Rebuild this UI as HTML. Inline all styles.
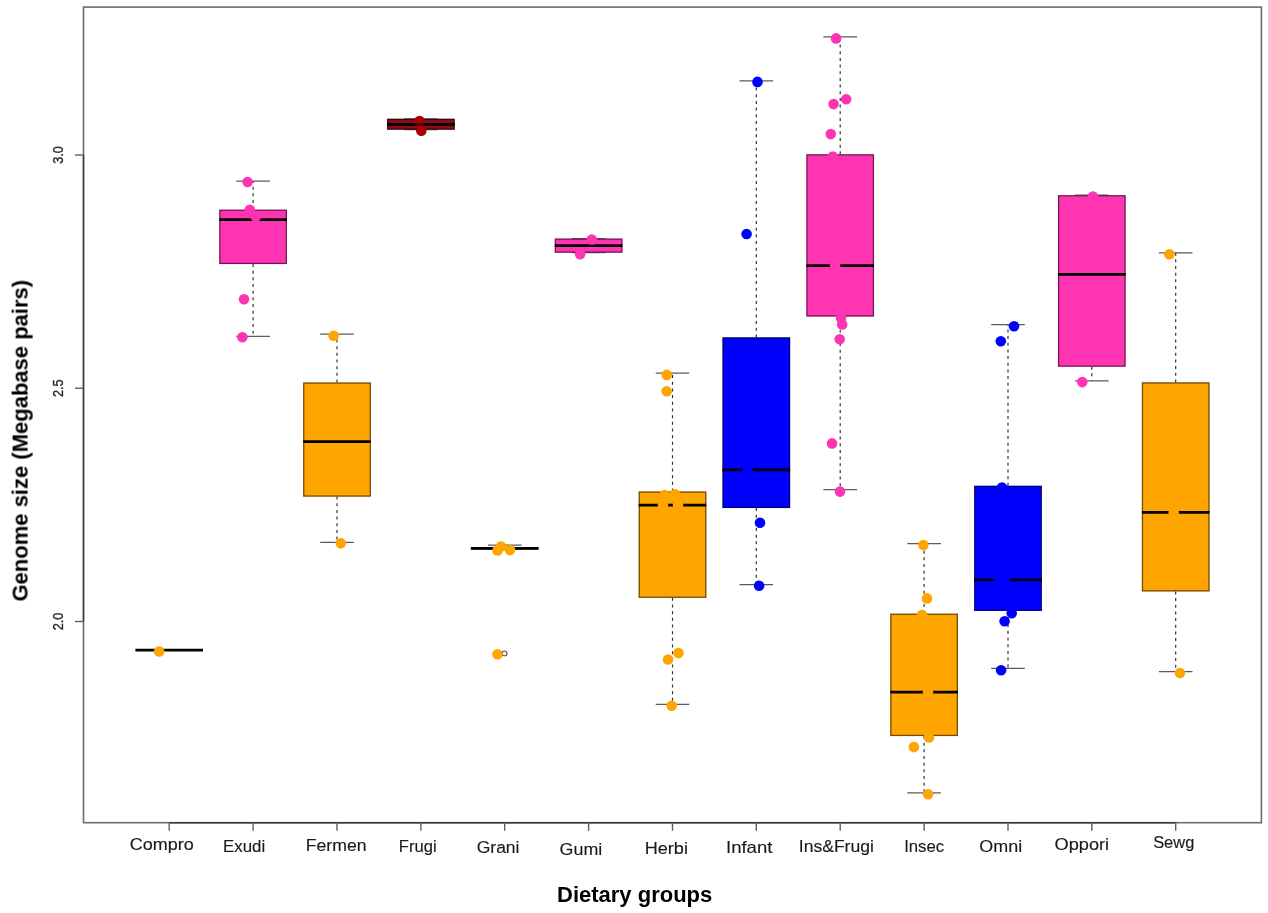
<!DOCTYPE html>
<html><head><meta charset="utf-8"><title>Genome size by dietary group</title>
<style>
html,body{margin:0;padding:0;background:#fff;}
body{width:1268px;height:913px;overflow:hidden;}
svg{display:block;font-family:"Liberation Sans",sans-serif;}
.txt{filter:grayscale(1);}
.xl{font-size:17.6px;fill:#1a1a1a;stroke:#1a1a1a;stroke-width:0.15px;}
.yl{font-size:14px;fill:#222;stroke:#222;stroke-width:0.3px;}
.tt{font-size:22px;font-weight:bold;fill:#000;}
.wk{stroke:#2a2a2a;stroke-width:1.15;stroke-dasharray:3 3.67;}
.cap{stroke:#5a5a5a;stroke-width:1.25;}
.bx{stroke:#000;stroke-opacity:0.55;stroke-width:1.3;}
.md{stroke:#000;stroke-width:2.8;}
</style></head><body>
<svg width="1268" height="913" viewBox="0 0 1268 913">
<rect x="0" y="0" width="1268" height="913" fill="#fff"/>
<rect x="83.5" y="7.1" width="1177.9" height="815.6" fill="none" stroke="#6c6c6c" stroke-width="1.6"/>
<line x1="83.5" y1="155" x2="83.5" y2="621.5" stroke="#383838" stroke-width="1.4"/>
<line x1="169.2" y1="822.7" x2="1175.7" y2="822.7" stroke="#383838" stroke-width="1.4"/>
<line x1="75" y1="155" x2="83.5" y2="155" stroke="#5e5e5e" stroke-width="1.4"/>
<line x1="75" y1="388.2" x2="83.5" y2="388.2" stroke="#5e5e5e" stroke-width="1.4"/>
<line x1="75" y1="621.5" x2="83.5" y2="621.5" stroke="#5e5e5e" stroke-width="1.4"/>
<line x1="169.2" y1="822.7" x2="169.2" y2="830.8" stroke="#5e5e5e" stroke-width="1.4"/>
<line x1="253.1" y1="822.7" x2="253.1" y2="830.8" stroke="#5e5e5e" stroke-width="1.4"/>
<line x1="337" y1="822.7" x2="337" y2="830.8" stroke="#5e5e5e" stroke-width="1.4"/>
<line x1="420.9" y1="822.7" x2="420.9" y2="830.8" stroke="#5e5e5e" stroke-width="1.4"/>
<line x1="504.7" y1="822.7" x2="504.7" y2="830.8" stroke="#5e5e5e" stroke-width="1.4"/>
<line x1="588.6" y1="822.7" x2="588.6" y2="830.8" stroke="#5e5e5e" stroke-width="1.4"/>
<line x1="672.5" y1="822.7" x2="672.5" y2="830.8" stroke="#5e5e5e" stroke-width="1.4"/>
<line x1="756.3" y1="822.7" x2="756.3" y2="830.8" stroke="#5e5e5e" stroke-width="1.4"/>
<line x1="840.2" y1="822.7" x2="840.2" y2="830.8" stroke="#5e5e5e" stroke-width="1.4"/>
<line x1="924.1" y1="822.7" x2="924.1" y2="830.8" stroke="#5e5e5e" stroke-width="1.4"/>
<line x1="1008" y1="822.7" x2="1008" y2="830.8" stroke="#5e5e5e" stroke-width="1.4"/>
<line x1="1091.8" y1="822.7" x2="1091.8" y2="830.8" stroke="#5e5e5e" stroke-width="1.4"/>
<line x1="1175.7" y1="822.7" x2="1175.7" y2="830.8" stroke="#5e5e5e" stroke-width="1.4"/>
<g><line x1="135.4" y1="650.1" x2="203" y2="650.1" class="md"/><circle cx="159.1" cy="651.5" r="5.3" fill="#FFA500"/></g>
<g><line x1="253.1" y1="209.7" x2="253.1" y2="181" class="wk"/><line x1="253.1" y1="264" x2="253.1" y2="336.4" class="wk"/><line x1="236.3" y1="181" x2="269.9" y2="181" class="cap"/><line x1="236.3" y1="336.4" x2="269.9" y2="336.4" class="cap"/><rect x="219.3" y="209.7" width="67.6" height="54.3" fill="#FF34B3"/><rect x="219.85" y="210.25" width="66.5" height="53.2" fill="none" class="bx"/><line x1="219.3" y1="219.7" x2="286.9" y2="219.7" class="md"/><circle cx="247.6" cy="182" r="5.3" fill="#FF34B3"/><circle cx="249.8" cy="209.8" r="5.3" fill="#FF34B3"/><circle cx="255.8" cy="216.5" r="5.3" fill="#FF34B3"/><circle cx="244" cy="299.3" r="5.3" fill="#FF34B3"/><circle cx="242.4" cy="337.3" r="5.3" fill="#FF34B3"/></g>
<g><line x1="337" y1="382.5" x2="337" y2="334.2" class="wk"/><line x1="337" y1="496.6" x2="337" y2="542.3" class="wk"/><line x1="320.2" y1="334.2" x2="353.8" y2="334.2" class="cap"/><line x1="320.2" y1="542.3" x2="353.8" y2="542.3" class="cap"/><rect x="303.2" y="382.5" width="67.6" height="114.1" fill="#FFA500"/><rect x="303.75" y="383.05" width="66.5" height="113" fill="none" class="bx"/><line x1="303.2" y1="441.6" x2="370.8" y2="441.6" class="md"/><circle cx="333.6" cy="335.8" r="5.3" fill="#FFA500"/><circle cx="340.7" cy="543.2" r="5.3" fill="#FFA500"/></g>
<g><line x1="404.1" y1="118.8" x2="437.7" y2="118.8" class="cap"/><line x1="404.1" y1="129.7" x2="437.7" y2="129.7" class="cap"/><rect x="387.1" y="118.8" width="67.6" height="10.9" fill="#8C0A14"/><rect x="387.65" y="119.35" width="66.5" height="9.8" fill="none" class="bx"/><line x1="387.1" y1="124.4" x2="454.7" y2="124.4" class="md"/><circle cx="419.5" cy="121" r="5.3" fill="#A80008"/><circle cx="421.3" cy="130.7" r="5.3" fill="#A80008"/><line x1="387.1" y1="124.4" x2="454.7" y2="124.4" class="md" stroke-opacity="0.45"/></g>
<g><line x1="504.7" y1="547.2" x2="504.7" y2="545" class="wk"/><line x1="487.9" y1="545" x2="521.5" y2="545" class="cap"/><line x1="487.9" y1="549.4" x2="521.5" y2="549.4" class="cap"/><rect x="470.9" y="547.2" width="67.6" height="2.2" fill="#FFA500"/><rect x="471.45" y="547.75" width="66.5" height="1.1" fill="none" class="bx"/><line x1="470.9" y1="548.3" x2="538.5" y2="548.3" class="md"/><circle cx="504.6" cy="653.4" r="2.4" fill="none" stroke="#4a4a4a" stroke-width="1.05"/><circle cx="497.5" cy="654.2" r="5.3" fill="#FFA500"/><circle cx="501" cy="546.5" r="5.3" fill="#FFA500"/><circle cx="497.5" cy="550.5" r="5.3" fill="#FFA500"/><circle cx="510" cy="550" r="5.3" fill="#FFA500"/></g>
<g><line x1="571.8" y1="238.6" x2="605.4" y2="238.6" class="cap"/><line x1="571.8" y1="252.7" x2="605.4" y2="252.7" class="cap"/><rect x="554.8" y="238.6" width="67.6" height="14.1" fill="#FF34B3"/><rect x="555.35" y="239.15" width="66.5" height="13" fill="none" class="bx"/><line x1="554.8" y1="245.7" x2="622.4" y2="245.7" class="md"/><circle cx="591.8" cy="239.6" r="5.3" fill="#FF34B3"/><circle cx="580.1" cy="254.2" r="5.3" fill="#FF34B3"/></g>
<g><line x1="672.5" y1="491.5" x2="672.5" y2="373.1" class="wk"/><line x1="672.5" y1="597.8" x2="672.5" y2="704.4" class="wk"/><line x1="655.7" y1="373.1" x2="689.3" y2="373.1" class="cap"/><line x1="655.7" y1="704.4" x2="689.3" y2="704.4" class="cap"/><rect x="638.7" y="491.5" width="67.6" height="106.3" fill="#FFA500"/><rect x="639.25" y="492.05" width="66.5" height="105.2" fill="none" class="bx"/><line x1="638.7" y1="505.1" x2="706.3" y2="505.1" class="md"/><circle cx="666.7" cy="374.9" r="5.3" fill="#FFA500"/><circle cx="666.7" cy="391.2" r="5.3" fill="#FFA500"/><circle cx="664.5" cy="495" r="5.3" fill="#FFA500"/><circle cx="675" cy="494.3" r="5.3" fill="#FFA500"/><circle cx="663" cy="505" r="5.3" fill="#FFA500"/><circle cx="678" cy="505" r="5.3" fill="#FFA500"/><circle cx="668" cy="659.5" r="5.3" fill="#FFA500"/><circle cx="678.5" cy="653.1" r="5.3" fill="#FFA500"/><circle cx="671.7" cy="705.7" r="5.3" fill="#FFA500"/></g>
<g><line x1="756.3" y1="337.4" x2="756.3" y2="80.8" class="wk"/><line x1="756.3" y1="508" x2="756.3" y2="584.7" class="wk"/><line x1="739.5" y1="80.8" x2="773.1" y2="80.8" class="cap"/><line x1="739.5" y1="584.7" x2="773.1" y2="584.7" class="cap"/><rect x="722.5" y="337.4" width="67.6" height="170.6" fill="#0000FF"/><rect x="723.05" y="337.95" width="66.5" height="169.5" fill="none" class="bx"/><line x1="722.5" y1="469.8" x2="790.1" y2="469.8" class="md"/><circle cx="757.5" cy="81.9" r="5.3" fill="#0000FF"/><circle cx="746.6" cy="234" r="5.3" fill="#0000FF"/><circle cx="747.6" cy="471" r="5.3" fill="#0000FF"/><circle cx="760" cy="522.7" r="5.3" fill="#0000FF"/><circle cx="759.1" cy="585.7" r="5.3" fill="#0000FF"/></g>
<g><line x1="840.2" y1="154.3" x2="840.2" y2="36.8" class="wk"/><line x1="840.2" y1="316.5" x2="840.2" y2="489.6" class="wk"/><line x1="823.4" y1="36.8" x2="857" y2="36.8" class="cap"/><line x1="823.4" y1="489.6" x2="857" y2="489.6" class="cap"/><rect x="806.4" y="154.3" width="67.6" height="162.2" fill="#FF34B3"/><rect x="806.95" y="154.85" width="66.5" height="161.1" fill="none" class="bx"/><line x1="806.4" y1="265.7" x2="874" y2="265.7" class="md"/><circle cx="836.1" cy="38.4" r="5.3" fill="#FF34B3"/><circle cx="846.2" cy="99.2" r="5.3" fill="#FF34B3"/><circle cx="833.6" cy="104.1" r="5.3" fill="#FF34B3"/><circle cx="830.8" cy="134.1" r="5.3" fill="#FF34B3"/><circle cx="832.8" cy="156.5" r="5.3" fill="#FF34B3"/><circle cx="835" cy="266" r="5.3" fill="#FF34B3"/><circle cx="841" cy="318" r="5.3" fill="#FF34B3"/><circle cx="842.2" cy="324.5" r="5.3" fill="#FF34B3"/><circle cx="839.7" cy="339.3" r="5.3" fill="#FF34B3"/><circle cx="832" cy="443.4" r="5.3" fill="#FF34B3"/><circle cx="840" cy="491.6" r="5.3" fill="#FF34B3"/></g>
<g><line x1="924.1" y1="613.7" x2="924.1" y2="543.5" class="wk"/><line x1="924.1" y1="736" x2="924.1" y2="792.8" class="wk"/><line x1="907.3" y1="543.5" x2="940.9" y2="543.5" class="cap"/><line x1="907.3" y1="792.8" x2="940.9" y2="792.8" class="cap"/><rect x="890.3" y="613.7" width="67.6" height="122.3" fill="#FFA500"/><rect x="890.85" y="614.25" width="66.5" height="121.2" fill="none" class="bx"/><line x1="890.3" y1="692.2" x2="957.9" y2="692.2" class="md"/><circle cx="923.4" cy="545.1" r="5.3" fill="#FFA500"/><circle cx="927" cy="598.4" r="5.3" fill="#FFA500"/><circle cx="922" cy="615" r="5.3" fill="#FFA500"/><circle cx="928" cy="692" r="5.3" fill="#FFA500"/><circle cx="929" cy="737.5" r="5.3" fill="#FFA500"/><circle cx="913.9" cy="747.1" r="5.3" fill="#FFA500"/><circle cx="928.1" cy="794.3" r="5.3" fill="#FFA500"/></g>
<g><line x1="1008" y1="485.8" x2="1008" y2="324.6" class="wk"/><line x1="1008" y1="610.9" x2="1008" y2="668.4" class="wk"/><line x1="991.2" y1="324.6" x2="1024.8" y2="324.6" class="cap"/><line x1="991.2" y1="668.4" x2="1024.8" y2="668.4" class="cap"/><rect x="974.2" y="485.8" width="67.6" height="125.1" fill="#0000FF"/><rect x="974.75" y="486.35" width="66.5" height="124" fill="none" class="bx"/><line x1="974.2" y1="579.8" x2="1041.8" y2="579.8" class="md"/><circle cx="1014" cy="326.3" r="5.3" fill="#0000FF"/><circle cx="1000.8" cy="341.3" r="5.3" fill="#0000FF"/><circle cx="1002" cy="487.5" r="5.3" fill="#0000FF"/><circle cx="1000" cy="580" r="5.3" fill="#0000FF"/><circle cx="1005" cy="580" r="5.3" fill="#0000FF"/><circle cx="1011.7" cy="613.2" r="5.3" fill="#0000FF"/><circle cx="1004.6" cy="621.2" r="5.3" fill="#0000FF"/><circle cx="1001.1" cy="670.3" r="5.3" fill="#0000FF"/></g>
<g><line x1="1091.8" y1="366.7" x2="1091.8" y2="380.9" class="wk"/><line x1="1075" y1="195.2" x2="1108.6" y2="195.2" class="cap"/><line x1="1075" y1="380.9" x2="1108.6" y2="380.9" class="cap"/><rect x="1058" y="195.2" width="67.6" height="171.5" fill="#FF34B3"/><rect x="1058.55" y="195.75" width="66.5" height="170.4" fill="none" class="bx"/><line x1="1058" y1="274.4" x2="1125.6" y2="274.4" class="md"/><circle cx="1093" cy="196.5" r="5.3" fill="#FF34B3"/><circle cx="1082.3" cy="382.1" r="5.3" fill="#FF34B3"/></g>
<g><line x1="1175.7" y1="382.4" x2="1175.7" y2="252.8" class="wk"/><line x1="1175.7" y1="591.4" x2="1175.7" y2="671.5" class="wk"/><line x1="1158.9" y1="252.8" x2="1192.5" y2="252.8" class="cap"/><line x1="1158.9" y1="671.5" x2="1192.5" y2="671.5" class="cap"/><rect x="1141.9" y="382.4" width="67.6" height="209" fill="#FFA500"/><rect x="1142.45" y="382.95" width="66.5" height="207.9" fill="none" class="bx"/><line x1="1141.9" y1="512.4" x2="1209.5" y2="512.4" class="md"/><circle cx="1169.4" cy="254.2" r="5.3" fill="#FFA500"/><circle cx="1173.7" cy="512.5" r="5.3" fill="#FFA500"/><circle cx="1179.9" cy="673" r="5.3" fill="#FFA500"/></g>
<g class="txt">
<text class="yl" transform="translate(63.2,155) rotate(-90) scale(0.91,1)" text-anchor="middle">3.0</text>
<text class="yl" transform="translate(63.2,388.2) rotate(-90) scale(0.91,1)" text-anchor="middle">2.5</text>
<text class="yl" transform="translate(63.2,621.5) rotate(-90) scale(0.91,1)" text-anchor="middle">2.0</text>
<text class="xl" transform="translate(129.79,849.7) scale(1.0226,0.95)">Compro</text>
<text class="xl" transform="translate(223.02,852.2) scale(0.9581,0.95)">Exudi</text>
<text class="xl" transform="translate(305.7,851.2) scale(1.0034,0.95)">Fermen</text>
<text class="xl" transform="translate(398.85,852.1) scale(0.9439,0.95)">Frugi</text>
<text class="xl" transform="translate(476.69,853.4) scale(0.9954,0.95)">Grani</text>
<text class="xl" transform="translate(559.59,854.7) scale(1.0146,0.95)">Gumi</text>
<text class="xl" transform="translate(644.68,854.3) scale(1.0292,0.95)">Herbi</text>
<text class="xl" transform="translate(725.98,853.4) scale(1.0546,0.95)">Infant</text>
<text class="xl" transform="translate(798.8,852.1) scale(0.9975,0.95)">Ins&amp;Frugi</text>
<text class="xl" transform="translate(904.13,852.1) scale(0.9514,0.95)">Insec</text>
<text class="xl" transform="translate(979.3,852.1) scale(1.0197,0.95)">Omni</text>
<text class="xl" transform="translate(1054.5,849.6) scale(1.0340,0.95)">Oppori</text>
<text class="xl" transform="translate(1153.15,847.5) scale(0.9353,0.95)">Sewg</text>
<text class="tt" x="557" y="901.8">Dietary groups</text>
<text class="tt" transform="translate(27.6,601.5) rotate(-90)">Genome size (Megabase pairs)</text>
</g>
</svg>
</body></html>
